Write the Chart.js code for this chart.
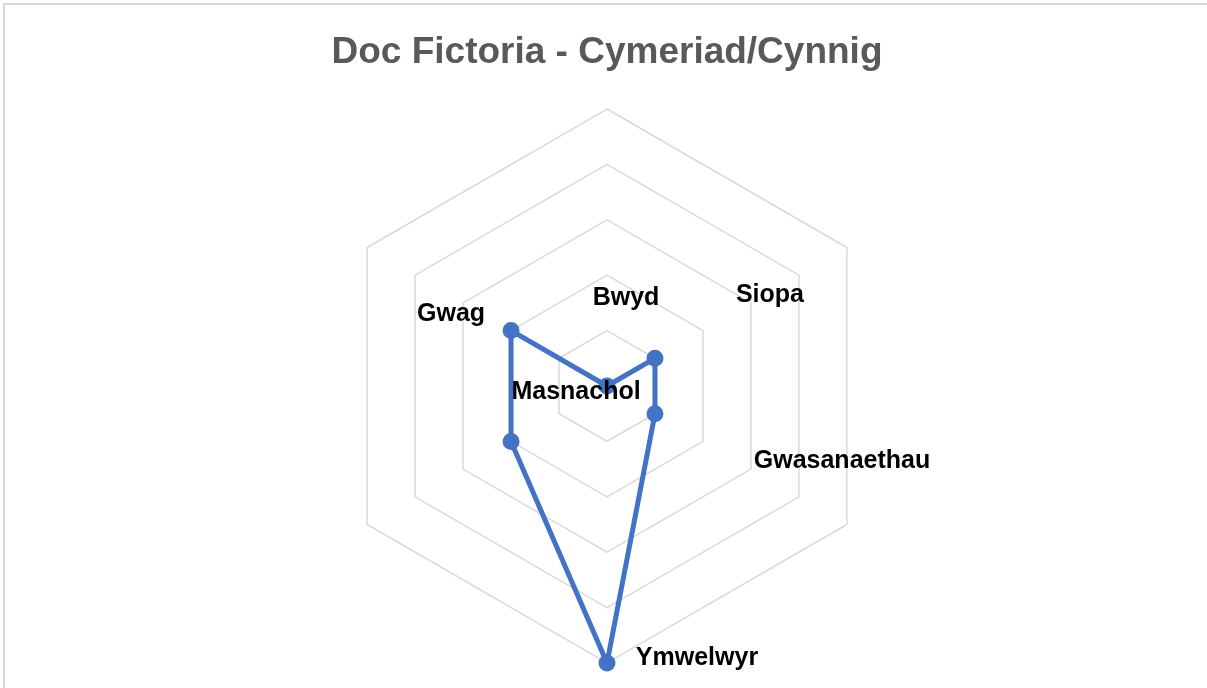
<!DOCTYPE html>
<html>
<head>
<meta charset="utf-8">
<script src="https://cdn.jsdelivr.net/npm/chart.js@4"></script>
<style>
  body { margin: 0; background: #fff; overflow: hidden; }
  #wrap { position: relative; width: 1207px; height: 688px; }
  #frame { position: absolute; left: 3px; top: 3px; width: 1220px; height: 700px; border: 2px solid #d9d9d9; box-sizing: border-box; }
  canvas { position: absolute; left: 0; top: 0; }
</style>
</head>
<body>
<div id="wrap">
  <div id="frame"></div>
  <canvas id="radar-chart" width="1207" height="688"></canvas>
</div>
<script>
// categorïau a gwerthoedd
var categories = ['Bwyd', 'Siopa', 'Gwasanaethau', 'Ymwelwyr', 'Masnachol', 'Gwag'];
var values = [0, 1, 1, 5, 2, 2];
var tickMin = 0;
var tickMax = 5;
var tickStep = 1;

// where each data label sits relative to its point (px)
var labelOffsets = [[19, -88], [115, -63], [187, 47], [90, -5], [65, -49], [-60, -16]];

var dataLabels = {
  id: 'dataLabels',
  afterDatasetsDraw: function(chart) {
    var ctx = chart.ctx;
    var meta = chart.getDatasetMeta(0);
    ctx.save();
    ctx.font = 'bold 25px "Liberation Sans", Arial, sans-serif';
    ctx.fillStyle = '#000';
    ctx.textAlign = 'center';
    ctx.textBaseline = 'middle';
    meta.data.forEach(function(pt, i) {
      ctx.fillText(chart.data.labels[i], pt.x + labelOffsets[i][0], pt.y + labelOffsets[i][1]);
    });
    ctx.restore();
  }
};

new Chart(document.getElementById('radar-chart'), {
  type: 'radar',
  data: {
    labels: categories,
    datasets: [{
      label: 'Cymeriad/Cynnig',
      data: values,
      borderColor: '#4472c4',
      backgroundColor: '#4472c4',
      pointBackgroundColor: '#4472c4',
      pointBorderColor: '#4472c4',
      borderWidth: 5,
      pointRadius: 6,
      fill: false,
      tension: 0
    }]
  },
  options: {
    responsive: false,
    animation: false,
    layout: { padding: { top: 0, bottom: 24, left: 7, right: 0 } },
    plugins: {
      legend: { display: false },
      tooltip: { enabled: false },
      title: {
        display: true,
        text: 'Doc Fictoria - Cymeriad/Cynnig',
        color: '#595959',
        font: { family: '"Liberation Sans", Arial, sans-serif', size: 37, weight: 'bold' },
        padding: { top: 31, bottom: 33 }
      }
    },
    scales: {
      r: {
        min: tickMin,
        max: tickMax,
        ticks: { stepSize: tickStep, display: false },
        angleLines: { display: false },
        grid: { color: '#d9d9d9', lineWidth: 1.5 },
        pointLabels: { display: false }
      }
    }
  },
  plugins: [dataLabels]
});
</script>
</body>
</html>
